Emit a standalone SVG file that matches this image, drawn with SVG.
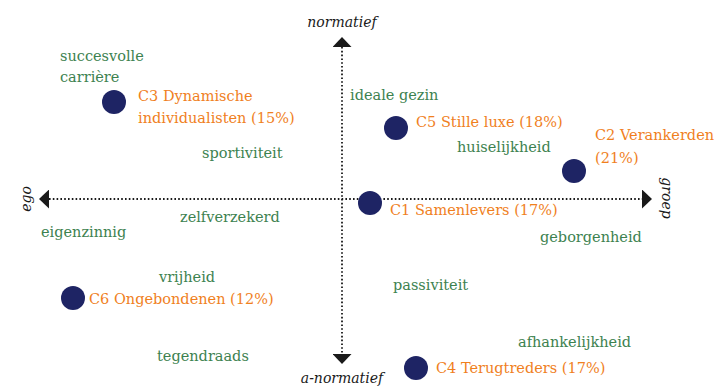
<svg xmlns="http://www.w3.org/2000/svg" width="716" height="387" viewBox="0 0 716 387">
  <style>
    text { font-family: 'DejaVu Serif', 'Liberation Serif', serif; font-size: 14.5px; }
    .axis-label { fill: #1a1a1a; font-style: italic; font-size: 14px; }
    .cluster { fill: #f07f1e; }
    .trait { fill: #3d8250; }
    .dot { fill: #1e2464; }
    .axis { stroke: #1a1a1a; stroke-width: 1.8; stroke-dasharray: 1.6 2.2; fill: none; }
  </style>
  <defs>
    <marker id="head" markerUnits="userSpaceOnUse" markerWidth="10" markerHeight="19" refX="0" refY="9.5" orient="auto-start-reverse">
      <path d="M0,0 L10,9.5 L0,19 z" fill="#1a1a1a"/>
    </marker>
  </defs>

  <!-- axes -->
  <g id="connectors">
    <line class="axis" x1="49" y1="199" x2="642" y2="199" marker-start="url(#head)" marker-end="url(#head)"/>
    <line class="axis" x1="342" y1="47" x2="342" y2="354" marker-start="url(#head)" marker-end="url(#head)"/>
  </g>

  <!-- axis labels -->
  <g id="axis-labels">
    <text class="axis-label" x="342" y="27" text-anchor="middle">normatief</text>
    <text class="axis-label" x="342" y="383" text-anchor="middle">a-normatief</text>
    <text class="axis-label" transform="translate(31,199) rotate(-90)" text-anchor="middle">ego</text>
    <text class="axis-label" transform="translate(662,198) rotate(90)" text-anchor="middle">groep</text>
  </g>

  <!-- clusters -->
  <g id="c3">
    <circle class="dot" cx="114" cy="102" r="12"/>
    <text class="cluster" x="138" y="101">C3 Dynamische</text>
    <text class="cluster" x="138" y="123">individualisten (15%)</text>
  </g>
  <g id="c5">
    <circle class="dot" cx="396" cy="128" r="12"/>
    <text class="cluster" x="416" y="127">C5 Stille luxe (18%)</text>
  </g>
  <g id="c2">
    <circle class="dot" cx="574" cy="171" r="12"/>
    <text class="cluster" x="595" y="140">C2 Verankerden</text>
    <text class="cluster" x="595" y="163">(21%)</text>
  </g>
  <g id="c1">
    <circle class="dot" cx="370" cy="203" r="12"/>
    <text class="cluster" x="390" y="215">C1 Samenlevers (17%)</text>
  </g>
  <g id="c6">
    <circle class="dot" cx="73" cy="298" r="12"/>
    <text class="cluster" x="89" y="304">C6 Ongebondenen (12%)</text>
  </g>
  <g id="c4">
    <circle class="dot" cx="416" cy="368" r="12"/>
    <text class="cluster" x="436" y="373">C4 Terugtreders (17%)</text>
  </g>

  <!-- traits -->
  <g id="traits">
    <text class="trait" x="60" y="61">succesvolle</text>
    <text class="trait" x="60" y="82">carrière</text>
    <text class="trait" x="202" y="158">sportiviteit</text>
    <text class="trait" x="350" y="100">ideale gezin</text>
    <text class="trait" x="457" y="152">huiselijkheid</text>
    <text class="trait" x="180" y="222">zelfverzekerd</text>
    <text class="trait" x="41" y="237">eigenzinnig</text>
    <text class="trait" x="540" y="242">geborgenheid</text>
    <text class="trait" x="159" y="282">vrijheid</text>
    <text class="trait" x="393" y="290">passiviteit</text>
    <text class="trait" x="518" y="347">afhankelijkheid</text>
    <text class="trait" x="157" y="361">tegendraads</text>
  </g>
</svg>
